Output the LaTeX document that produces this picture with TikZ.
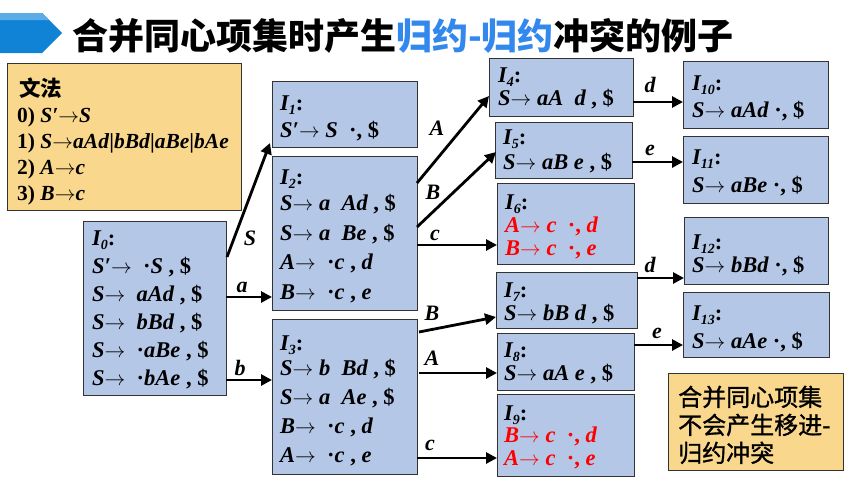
\documentclass[tikz,border=0pt]{standalone}
\usepackage{fontspec}
\setmainfont{Liberation Serif}
\newfontfamily\cjk{Noto Sans CJK SC}
\newfontfamily\cjkm[FakeBold=1.2]{Noto Sans CJK SC}
\usetikzlibrary{arrows.meta,calc}
\definecolor{boxblue}{RGB}{180,199,231}
\definecolor{boxorange}{RGB}{249,215,141}
\definecolor{titleblue}{RGB}{51,136,238}
\definecolor{chevblue}{RGB}{16,131,214}
\definecolor{chevlight}{RGB}{92,172,232}
\definecolor{redtxt}{RGB}{255,0,0}
\newcommand{\rar}{\ensuremath{\rightarrow}}
\newcommand{\cma}{\textup{,}}
\newcommand{\dol}{\textup{\$}}
\newcommand{\mdot}{\textup{·}}
\newcommand{\gap}{\hspace{0.5em}}
\newcommand{\Isb}[1]{I\raisebox{-0.45ex}[0pt][0pt]{\fontsize{14}{14}\selectfont #1}\textup{:}}
\newcommand{\lstack}[2]{\vtop{\baselineskip=#1\lineskiplimit=-1000pt\lineskip=0pt\relax #2}}
\newcommand{\rl}[1]{\hbox{\color{redtxt}#1}}
\begin{document}
\begin{tikzpicture}[x=1pt,y=-1pt,
  box/.style={draw=black!80, line width=1pt, fill=boxblue, anchor=north west, inner sep=0pt, outer sep=0pt},
  gbox/.style={box, fill=boxorange},
  tx/.style={anchor=base west, inner sep=0pt, font=\fontsize{22.5}{24}\selectfont\bfseries\itshape},
  gtx/.style={anchor=base west, inner sep=0pt, font=\fontsize{21.5}{24}\selectfont\bfseries\itshape},
  lab/.style={inner sep=0pt, font=\fontsize{22}{24}\selectfont\bfseries\itshape},
  arr/.style={line width=2.8pt, -{Triangle[length=11pt,width=11pt]}}]
\useasboundingbox (0,0) rectangle (851,479);
% title
\fill[chevblue] (0,13) -- (42,13) -- (62,33) -- (42,53) -- (0,53) -- cycle;
\fill[chevlight] (0,13) -- (42,13) -- (49,20) -- (0,20) -- cycle;
\node[anchor=base west, inner sep=0pt, font=\cjk\bfseries\fontsize{36}{40}\selectfont] (title) at (72,49)
  {合并同心项集时产生\textcolor{titleblue}{归约-归约}冲突的例子};
% boxes
\node[gbox, minimum width=234pt, minimum height=147pt] (G) at (7,63) {};
\node[box, minimum width=143pt, minimum height=174pt] (I0) at (83,221) {};
\node[box, minimum width=145pt, minimum height=66pt] (I1) at (272,81) {};
\node[box, minimum width=145pt, minimum height=154pt] (I2) at (272,156) {};
\node[box, minimum width=145pt, minimum height=155pt] (I3) at (272,319) {};
\node[box, minimum width=144pt, minimum height=58pt] (I4) at (489,58) {};
\node[box, minimum width=137pt, minimum height=56pt] (I5) at (495,122) {};
\node[box, minimum width=137pt, minimum height=81pt] (I6) at (497,183) {};
\node[box, minimum width=141pt, minimum height=56pt] (I7) at (496,272) {};
\node[box, minimum width=137pt, minimum height=57pt] (I8) at (497,333) {};
\node[box, minimum width=137pt, minimum height=82pt] (I9) at (497,394) {};
\node[box, minimum width=145pt, minimum height=67pt] (I10) at (683,61) {};
\node[box, minimum width=145pt, minimum height=67pt] (I11) at (683,136) {};
\node[box, minimum width=144pt, minimum height=67pt] (I12) at (684,217) {};
\node[box, minimum width=146pt, minimum height=65pt] (I13) at (683,292) {};
\node[gbox, minimum width=175pt, minimum height=97pt] (N) at (668,373) {};
% grammar text
\node[gtx] (gt) at (17,96) {\lstack{26pt}{%
  \hbox{\hspace{2pt}\cjk\upshape\bfseries 文法}
  \hbox{\textup{0)} S′\rar S}
  \hbox{\textup{1)} S\rar aAd\textup{|}bBd\textup{|}aBe\textup{|}bAe}
  \hbox{\textup{2)} A\rar c}
  \hbox{\textup{3)} B\rar c}}};
% I0 text
\node[tx] (t0) at (92,245) {\lstack{28pt}{%
  \hbox{\Isb{0}}
  \hbox{S′\rar\gap\mdot S \cma{} \dol}
  \hbox{S\rar\gap aAd \cma{} \dol}
  \hbox{S\rar\gap bBd \cma{} \dol}
  \hbox{S\rar\gap\mdot aBe \cma{} \dol}
  \hbox{S\rar\gap\mdot bAe \cma{} \dol}}};
% I1
\node[tx] (t1) at (280,110) {\lstack{27pt}{%
  \hbox{\Isb{1}}
  \hbox{S′\rar{} S\gap\mdot\cma{} \dol}}};
% I2
\node[tx] (t2) at (280,184) {\lstack{29.5pt}{%
  \hbox{\Isb{2}}\vskip-3pt
  \hbox{S\rar{} a\gap Ad \cma{} \dol}
  \hbox{S\rar{} a\gap Be \cma{} \dol}
  \hbox{A\rar\gap\mdot c \cma{} d}
  \hbox{B\rar\gap\mdot c \cma{} e}}};
% I3
\node[tx] (t3) at (280,350) {\lstack{29pt}{%
  \hbox{\Isb{3}}\vskip-4pt
  \hbox{S\rar{} b\gap Bd \cma{} \dol}
  \hbox{S\rar{} a\gap Ae \cma{} \dol}
  \hbox{B\rar\gap\mdot c \cma{} d}
  \hbox{A\rar\gap\mdot c \cma{} e}}};
% I4..I9
\node[tx] (t4) at (498,82) {\lstack{23pt}{%
  \hbox{\Isb{4}}
  \hbox{S\rar{} aA\gap d \cma{} \dol}}};
\node[tx] (t5) at (503,144) {\lstack{25pt}{%
  \hbox{\Isb{5}}
  \hbox{S\rar{} aB e \cma{} \dol}}};
\node[tx] (t6) at (505,209) {\lstack{23pt}{%
  \hbox{\Isb{6}}
  \rl{A\rar{} c\gap\mdot\cma{} d}
  \rl{B\rar{} c\gap\mdot\cma{} e}}};
\node[tx] (t7) at (504,297) {\lstack{23pt}{%
  \hbox{\Isb{7}}
  \hbox{S\rar{} bB d \cma{} \dol}}};
\node[tx] (t8) at (504,357) {\lstack{23pt}{%
  \hbox{\Isb{8}}
  \hbox{S\rar{} aA e \cma{} \dol}}};
\node[tx] (t9) at (504,420) {\lstack{22.5pt}{%
  \hbox{\Isb{9}}
  \rl{B\rar{} c\gap\mdot\cma{} d}
  \rl{A\rar{} c\gap\mdot\cma{} e}}};
% I10..I13
\node[tx] (t10) at (692,90) {\lstack{27pt}{%
  \hbox{\Isb{10}}
  \hbox{S\rar{} aAd \mdot\cma{} \dol}}};
\node[tx] (t11) at (692,164) {\lstack{28pt}{%
  \hbox{\Isb{11}}
  \hbox{S\rar{} aBe \mdot\cma{} \dol}}};
\node[tx] (t12) at (692,249) {\lstack{23pt}{%
  \hbox{\Isb{12}}
  \hbox{S\rar{} bBd \mdot\cma{} \dol}}};
\node[tx] (t13) at (692,320) {\lstack{28pt}{%
  \hbox{\Isb{13}}
  \hbox{S\rar{} aAe \mdot\cma{} \dol}}};
% note
\node[anchor=base west, inner sep=0pt, font=\cjkm\fontsize{24}{28}\selectfont] (nt) at (678,406) {\lstack{28pt}{%
  \hbox{合并同心项集}
  \hbox{不会产生移进-}
  \hbox{归约冲突}}};
% arrows
\draw[arr] ($(I0.north east)+(1,36)$) -- ($(I1.south west)+(-2,-4)$);
\draw[arr] ($(I0.north east)+(0,76)$) coordinate (pa) -- (pa -| I2.west);
\draw[arr] ($(I0.north east)+(0,159)$) coordinate (pb) -- (pb -| I3.west);
\draw[arr] ($(I2.north east)+(0,27)$) -- ($(I4.north west)+(0,38)$);
\draw[arr] ($(I2.north east)+(0,71)$) -- ($(I5.north west)+(1,30)$);
\draw[arr] ($(I2.north east)+(0,89)$) coordinate (pc) -- (pc -| I6.west);
\draw[arr] ($(I3.north east)+(2,13)$) -- ($(I7.north west)+(0,45)$);
\draw[arr] ($(I3.north east)+(2,54)$) coordinate (pd) -- (pd -| I8.west);
\draw[arr] ($(I3.north east)+(0,139)$) coordinate (pe) -- (pe -| I9.west);
\draw[arr] ($(I4.north east)+(0,44)$) coordinate (pf) -- (pf -| I10.west);
\draw[arr] ($(I5.north east)+(0,40)$) coordinate (pg) -- (pg -| I11.west);
\draw[arr] ($(I7.north east)+(0,6)$) coordinate (ph) -- (ph -| I12.west);
\draw[arr] ($(I8.north east)+(0,12)$) coordinate (pi) -- (pi -| I13.west);
% labels
\node[lab] (lS) at (250,238) {S};
\node[lab] (la) at (242,287) {a};
\node[lab] (lb) at (240,368) {b};
\node[lab] (lA1) at (437,128) {A};
\node[lab] (lB1) at (433,192) {B};
\node[lab] (lc1) at (435,235) {c};
\node[lab] (lB2) at (432,313) {B};
\node[lab] (lA2) at (432,358) {A};
\node[lab] (lc2) at (430,445) {c};
\node[lab] (ld1) at (650,85) {d};
\node[lab] (le1) at (650,150) {e};
\node[lab] (ld2) at (650,265) {d};
\node[lab] (le2) at (657,333) {e};
\end{tikzpicture}
\end{document}
